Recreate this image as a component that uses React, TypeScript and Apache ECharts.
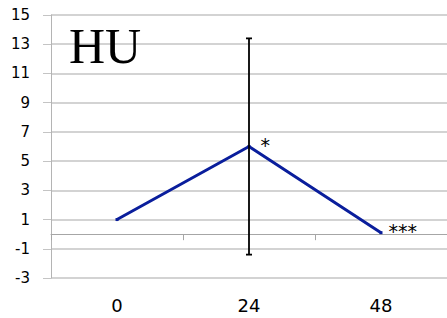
import React, { useEffect, useRef } from "react";
import * as echarts from "echarts";

const categories = ["0", "24", "48"];
const meanValues = [1, 6, 0.1];
const errorLow = [null, -1.4, null];
const errorHigh = [null, 13.4, null];
const markers = ["", "*", "***"];
const yTicks = { min: -3, max: 15, interval: 2 };
const title = "HU";

export default function App() {
  const ref = useRef<HTMLDivElement>(null);
  useEffect(() => {
    document.body.style.margin = "0";
    const chart = echarts.init(ref.current!, null, { renderer: "svg" });
    const errData = categories
      .map((c, i) => (errorLow[i] != null ? [i, errorLow[i], errorHigh[i]] : null))
      .filter((d) => d !== null);
    chart.setOption({
      animation: false,
      textStyle: { fontFamily: "DejaVu Sans" },
      grid: { left: 51, right: 0, top: 15, bottom: 40, containLabel: false },
      xAxis: [
        {
          type: "category",
          data: categories,
          boundaryGap: true,
          position: "bottom",
          axisLine: { show: true, onZero: true, lineStyle: { color: "#A6A6A6", width: 1 } },
          axisTick: { show: true, length: 6, inside: false, lineStyle: { color: "#A6A6A6" } },
          axisLabel: { show: false },
          splitLine: { show: false },
        },
        {
          type: "category",
          data: categories,
          boundaryGap: true,
          position: "bottom",
          axisLine: { show: false, onZero: false },
          axisTick: { show: false },
          axisLabel: { show: true, fontSize: 18, color: "#000", margin: 18, fontFamily: "DejaVu Sans" },
          splitLine: { show: false },
        },
      ],
      yAxis: {
        type: "value",
        min: yTicks.min,
        max: yTicks.max,
        interval: yTicks.interval,
        axisLine: { show: true, lineStyle: { color: "#B4B4B4", width: 1 } },
        axisTick: { show: true, length: 8, lineStyle: { color: "#C4C4C4" } },
        axisLabel: { fontSize: 15, color: "#000", margin: 21, fontFamily: "DejaVu Sans" },
        splitLine: { show: true, lineStyle: { color: "#C4C4C4", width: 1.5 } },
      },
      series: [
        {
          type: "line",
          xAxisIndex: 0,
          data: meanValues.map((v, i) => ({
            value: v,
            label: {
              show: markers[i] !== "",
              formatter: markers[i],
              position: "right",
              distance: i === 1 ? 10 : 6,
              offset: [0, -2],
              fontSize: 19,
              color: "#000",
              fontFamily: "DejaVu Sans",
            },
          })),
          symbol: "rect",
          symbolSize: 3,
          showSymbol: true,
          showAllSymbol: true,
          itemStyle: { color: "#0A1E9C" },
          lineStyle: { color: "#0A1E9C", width: 3 },
          z: 3,
        },
        {
          type: "custom",
          xAxisIndex: 0,
          data: errData,
          renderItem: (params: any, api: any) => {
            const x = api.value(0);
            const lo = api.coord([x, api.value(1)]);
            const hi = api.coord([x, api.value(2)]);
            const cap = 3;
            const style = { stroke: "#000", lineWidth: 1.8 };
            return {
              type: "group",
              children: [
                { type: "line", shape: { x1: lo[0], y1: lo[1], x2: hi[0], y2: hi[1] }, style },
                { type: "line", shape: { x1: lo[0] - cap, y1: lo[1], x2: lo[0] + cap, y2: lo[1] }, style },
                { type: "line", shape: { x1: hi[0] - cap, y1: hi[1], x2: hi[0] + cap, y2: hi[1] }, style },
              ],
            };
          },
          z: 4,
        },
      ],
      graphic: [
        {
          type: "text",
          left: 69,
          top: 21,
          style: { text: title, font: "50px 'Liberation Serif'", fill: "#000" },
          z: 10,
        },
      ],
    });
    return () => chart.dispose();
  }, []);
  return (
    <div
      ref={ref}
      style={{ position: "fixed", left: 0, top: 0, width: 447, height: 318, background: "#fff" }}
    />
  );
}
